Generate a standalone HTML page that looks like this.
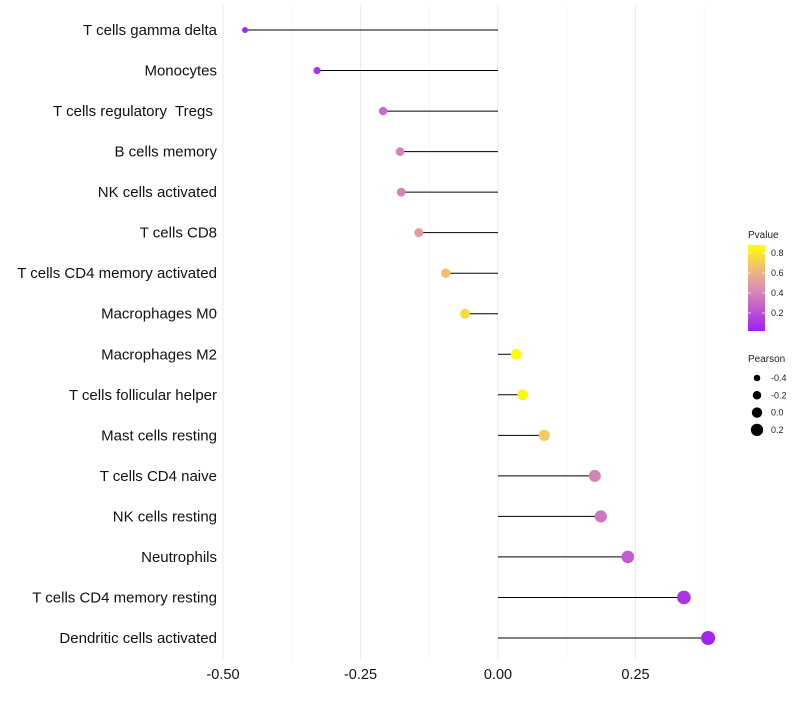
<!DOCTYPE html>
<html><head><meta charset="utf-8"><style>
body{margin:0;background:#fff;font-family:"Liberation Sans",sans-serif}
svg text{font-family:"Liberation Sans",sans-serif;white-space:pre}
</style></head><body>
<svg id="c" width="800" height="700">
<defs><linearGradient id="g" x1="0" y1="1" x2="0" y2="0">
<stop offset="0" stop-color="#a020f0"/><stop offset="0.5" stop-color="#dc90b0"/><stop offset="0.75" stop-color="#f2c070"/><stop offset="1" stop-color="#ffff00"/></linearGradient></defs>
</svg>
<script>
const categories=["T cells gamma delta","Monocytes","T cells regulatory  Tregs ","B cells memory","NK cells activated","T cells CD8","T cells CD4 memory activated","Macrophages M0","Macrophages M2","T cells follicular helper","Mast cells resting","T cells CD4 naive","NK cells resting","Neutrophils","T cells CD4 memory resting","Dendritic cells activated"];
const pearson=[-0.46,-0.329,-0.209,-0.178,-0.176,-0.144,-0.095,-0.06,0.033,0.045,0.084,0.176,0.187,0.236,0.338,0.382];
const pvalue=[0.05,0.1,0.3,0.4,0.4,0.5,0.65,0.75,0.9,0.85,0.7,0.4,0.35,0.25,0.1,0.04];
const xTicks=[-0.5,-0.25,0,0.25];
const xTickLabels=["-0.50","-0.25","0.00","0.25"];
const pTicks=[0.8,0.6,0.4,0.2];
const sizeTicks=[-0.4,-0.2,0.0,0.2];
const svg=document.getElementById('c');const NS="http://www.w3.org/2000/svg";
function el(t,a,p){const e=document.createElementNS(NS,t);for(const k in a)e.setAttribute(k,a[k]);(p||svg).appendChild(e);return e;}
const x=v=>498+v*550;
const y=i=>30+i*(608/15);
const r=v=>5.2+v*4.8;
function lerp(a,b,t){return a.map((v,i)=>Math.round(v+(b[i]-v)*t));}
function col(p){const stops=[[0.02,[160,32,240]],[0.45,[220,144,176]],[0.66,[242,192,112]],[0.88,[255,255,0]]];
 p=Math.max(0.02,Math.min(0.88,p));for(let i=0;i<3;i++){if(p<=stops[i+1][0]){const c=lerp(stops[i][1],stops[i+1][1],(p-stops[i][0])/(stops[i+1][0]-stops[i][0]));return `rgb(${c})`;}}return "rgb(255,255,0)";}
[-0.375,-0.125,0.125,0.375].forEach(v=>{const l=el('line',{x1:x(v),x2:x(v),y1:5,y2:660,stroke:'#f2f2f2','stroke-width':0.6});});
xTicks.forEach((v,i)=>{const l=el('line',{x1:x(v),x2:x(v),y1:5,y2:660,stroke:'#ebebeb','stroke-width':1});
 const t=el('text',{x:x(v),y:679,'text-anchor':'middle','font-size':14.5,fill:'#111'});t.textContent=xTickLabels[i];});
categories.forEach((c,i)=>{
 const t=el('text',{x:217,y:y(i)+5,'text-anchor':'end','font-size':15,fill:'#111'});t.textContent=c;
 const l=el('line',{x1:x(0),x2:x(pearson[i]),y1:y(i),y2:y(i),stroke:'#000','stroke-width':1});
 const d=el('circle',{cx:x(pearson[i]),cy:y(i),r:r(pearson[i]),fill:col(pvalue[i])});
});
let t=el('text',{x:748,y:238,'font-size':10,fill:'#222'});t.textContent="Pvalue";
const bar=el('rect',{x:748,y:245,width:17,height:86,fill:'url(#g)'});
const py=p=>253+(0.8-p)*100;
pTicks.forEach(p=>{el('line',{x1:748,x2:751,y1:py(p),y2:py(p),stroke:'#fff','stroke-width':0.7});el('line',{x1:762,x2:765,y1:py(p),y2:py(p),stroke:'#fff','stroke-width':0.7});
 const tt=el('text',{x:771,y:py(p)+3,'font-size':9,fill:'#222'});tt.textContent=p.toFixed(1);});
t=el('text',{x:748,y:362,'font-size':10,fill:'#222'});t.textContent="Pearson";
sizeTicks.forEach((s,i)=>{const cy=378+i*17.3;const c=el('circle',{cx:757,cy:cy,r:r(s),fill:'#000'});
 const tt=el('text',{x:771,y:cy+3,'font-size':9,fill:'#222'});tt.textContent=s.toFixed(1);});
</script>
</body></html>
